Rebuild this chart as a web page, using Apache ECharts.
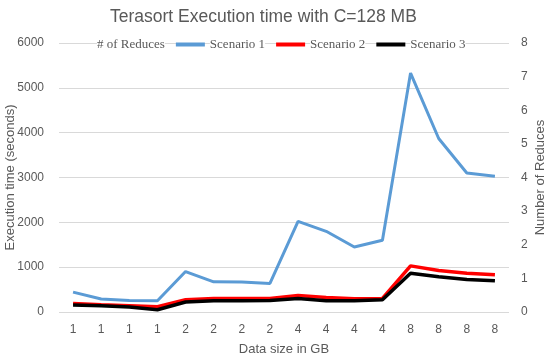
<!DOCTYPE html>
<html><head><meta charset="utf-8">
<script src="https://cdn.jsdelivr.net/npm/echarts@6/dist/echarts.min.js"></script>
<style>html,body{margin:0;padding:0;background:#fff}#c{width:550px;height:361px}</style>
</head><body><div id="c"></div>
<script>
const sizeLabels = ['1','1','1','1','2','2','2','2','4','4','4','4','8','8','8','8'];
const scenario1 = [444, 289, 258, 251, 902, 673, 671, 636, 2020, 1800, 1450, 1600, 5330, 3870, 3100, 3030];
const scenario2 = [191, 162, 140, 118, 273, 302, 302, 300, 370, 325, 296, 303, 1029, 925, 866, 829];
const scenario3 = [155, 140, 110, 51, 222, 250, 250, 255, 303, 251, 251, 273, 866, 785, 727, 696];
const reduces = [];
const leftTicks = [0, 6000, 1000];
const rightTicks = [0, 8, 1];

const chart = echarts.init(document.getElementById('c'), null, {renderer: 'canvas'});
const grey = '#595959';
const lab = {color: grey, fontFamily: 'Liberation Sans', fontSize: 12};
chart.setOption({
  animation: false,
  title: {text: 'Terasort Execution time with C=128 MB', left: 105, top: 3,
    textStyle: {color: grey, fontFamily: 'Liberation Sans', fontSize: 17.5, fontWeight: 'normal'}},
  legend: {top: 33, left: 58, itemGap: 11, itemWidth: 29, itemHeight: 4,
    textStyle: {color: grey, fontFamily: 'Liberation Serif', fontSize: 13, backgroundColor: '#fff'},
    data: [{name: '# of Reduces', icon: 'none'},
           {name: 'Scenario 1', icon: 'rect'}, {name: 'Scenario 2', icon: 'rect'}, {name: 'Scenario 3', icon: 'rect'}]},
  grid: {left: 59, right: 41, top: 43, bottom: 49, containLabel: false, outerBoundsMode: 'none'},
  xAxis: {type: 'category', data: sizeLabels.map((_, i) => String(i)), boundaryGap: true,
    name: 'Data size in GB', nameLocation: 'middle', nameGap: 31, nameMoveOverlap: false,
    nameTextStyle: {color: grey, fontFamily: 'Liberation Sans', fontSize: 13},
    axisLine: {show: false}, axisTick: {show: false},
    axisLabel: Object.assign({margin: 12, formatter: (v) => sizeLabels[+v]}, lab)},
  yAxis: [
    {type: 'value', min: leftTicks[0], max: leftTicks[1], interval: leftTicks[2],
     name: 'Execution time (seconds)', nameLocation: 'middle', nameGap: 42, nameRotate: 90, nameMoveOverlap: false,
     nameTextStyle: {color: grey, fontFamily: 'Liberation Sans', fontSize: 13},
     axisLabel: Object.assign({margin: 15, formatter: (v) => String(v)}, lab),
     splitLine: {lineStyle: {color: '#d9d9d9', width: 1}}},
    {type: 'value', min: rightTicks[0], max: rightTicks[1], interval: rightTicks[2],
     name: 'Number of Reduces', nameLocation: 'middle', nameGap: 25, nameRotate: 90, nameMoveOverlap: false,
     nameTextStyle: {color: grey, fontFamily: 'Liberation Sans', fontSize: 13},
     axisLabel: Object.assign({margin: 12, formatter: (v) => String(v)}, lab),
     splitLine: {show: false}}
  ],
  series: [
    {name: '# of Reduces', type: 'line', yAxisIndex: 1, data: reduces, showSymbol: false,
     lineStyle: {width: 0}, itemStyle: {color: 'rgba(0,0,0,0)'}},
    {name: 'Scenario 1', type: 'line', data: scenario1, showSymbol: false, symbol: 'none',
     lineStyle: {color: '#5B9BD5', width: 3}, itemStyle: {color: '#5B9BD5'}},
    {name: 'Scenario 2', type: 'line', data: scenario2, showSymbol: false, symbol: 'none',
     lineStyle: {color: '#FF0000', width: 3.5}, itemStyle: {color: '#FF0000'}},
    {name: 'Scenario 3', type: 'line', data: scenario3, showSymbol: false, symbol: 'none',
     lineStyle: {color: '#000000', width: 3.5}, itemStyle: {color: '#000000'}}
  ]
});
</script></body></html>
